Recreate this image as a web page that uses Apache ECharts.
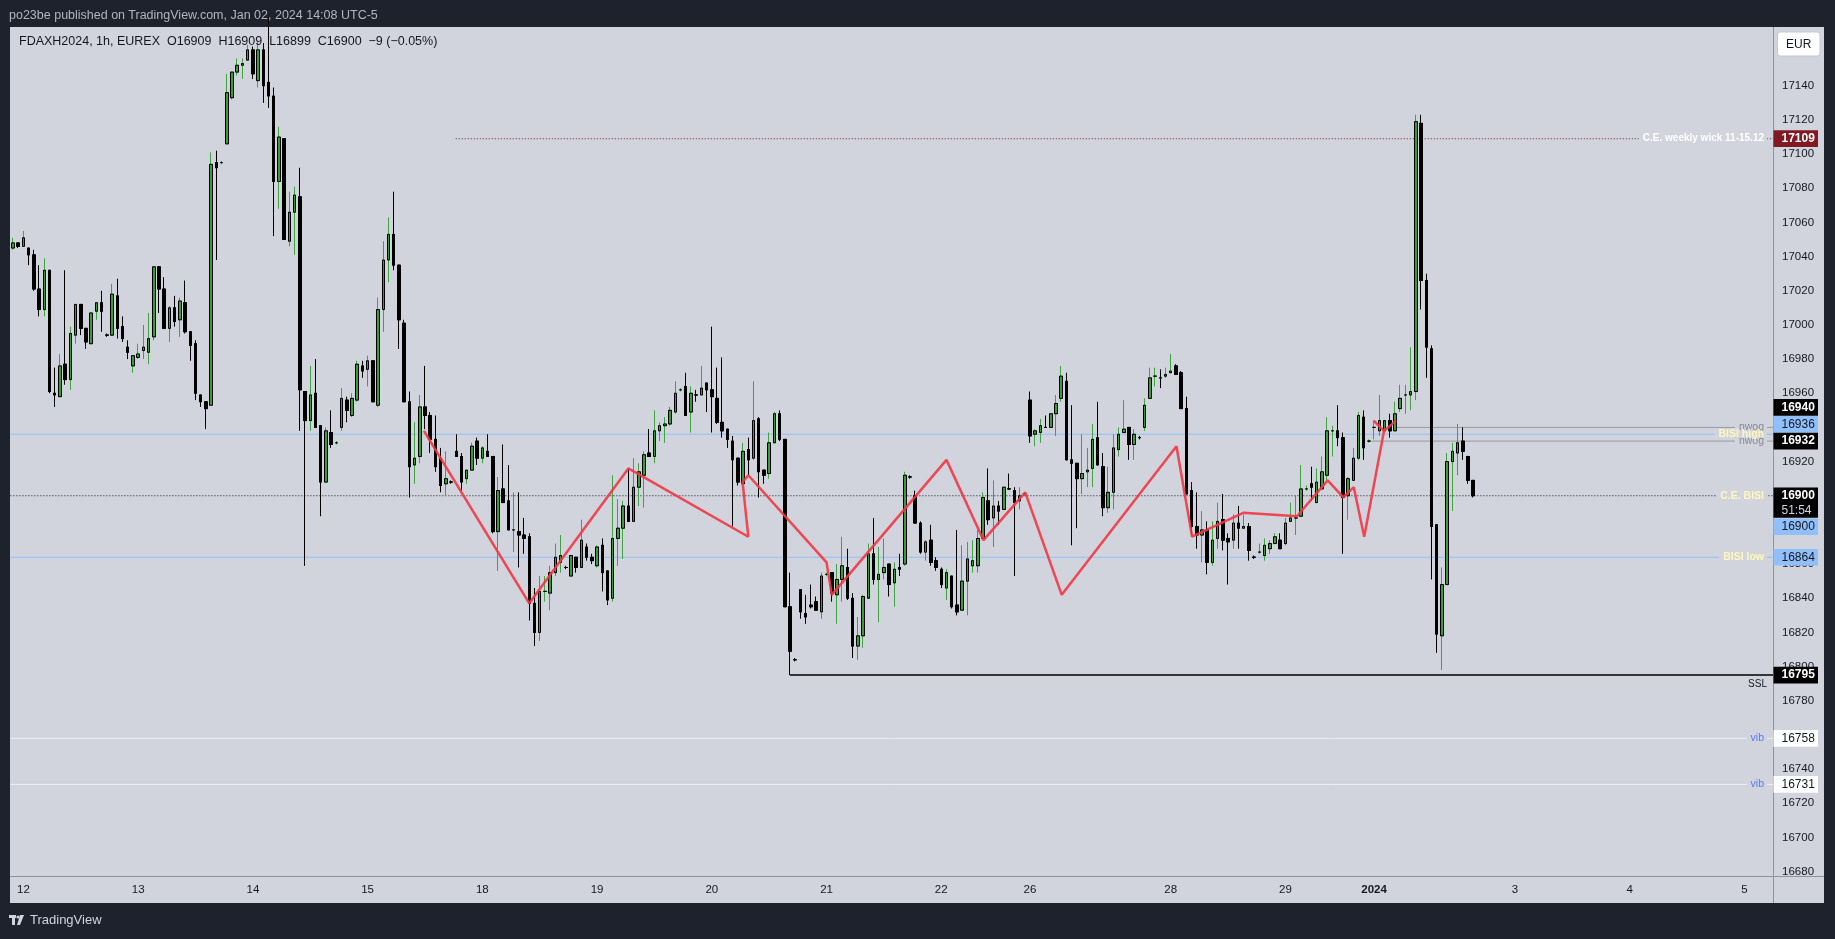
<!DOCTYPE html>
<html><head><meta charset="utf-8">
<script src="https://cdn.jsdelivr.net/npm/echarts@6/dist/echarts.min.js"></script>
<style>
html,body{margin:0;padding:0;background:#1e222d;width:1835px;height:939px;overflow:hidden;font-family:'Liberation Sans','Noto Sans',sans-serif;}
#panel{position:absolute;left:10px;top:27px;width:1814px;height:876px;background:#d1d4dc;}
.sep{position:absolute;background:#8f929b;}
#chart{position:absolute;left:0;top:0;width:1835px;height:939px;}
#title{position:absolute;left:9px;top:8px;color:#b2b5be;font-size:12.5px;white-space:pre;}
#legend{position:absolute;left:19px;top:34px;color:#131722;font-size:12.5px;white-space:pre;}
#footer{position:absolute;left:9px;top:912px;color:#d1d4dc;font-size:13px;display:flex;align-items:center;gap:5px;}
</style></head>
<body>
<div id="panel"></div>
<div class="sep" style="left:1773px;top:27px;width:1px;height:876px;"></div>
<div class="sep" style="left:10px;top:876px;width:1814px;height:1px;"></div>
<div id="chart"></div>
<div id="title">po23be published on TradingView.com, Jan 02, 2024 14:08 UTC-5</div>
<div id="legend">FDAXH2024, 1h, EUREX  O16909  H16909  L16899  C16900  −9 (−0.05%)</div>
<div id="footer"><svg width="16" height="12" viewBox="0 0 16 12"><rect x="0" y="1" width="7" height="3" fill="#d1d4dc"/><rect x="3" y="1" width="3" height="10" fill="#d1d4dc"/><circle cx="9" cy="3" r="1.6" fill="#d1d4dc"/><polygon points="11,1 15,1 11,11 8,11" fill="#d1d4dc"/></svg><span>TradingView</span></div>
<script>
// ---------------- data ----------------
// hourly candles, each row: [open, high, low, close]
const candles = [
[17045,17051,17044,17048],[17048,17048,17045,17046],[17046,17055,17046,17051],[17045,17045,17035,17041],[17041,17044,17020,17021],
[17021,17035,17005,17009],[17009,17039,17005,17032],[17032,17032,16960,16961],[16960,16975,16952,16959],[16958,16983,16958,16976],
[16977,17032,16965,16968],[16968,16999,16962,16995],[16994,17012,16989,17012],[17012,17012,16994,16998],[16998,16998,16986,16990],
[16989,17007,16989,17007],[17008,17013,17003,17013],[17013,17020,16996,17008],[16994,16995,16993,16994],[16994,17024,16994,17018],
[17017,17027,16992,16998],[16999,17005,16990,16992],[16987,16991,16980,16984],[16976,16982,16972,16982],[16981,16989,16980,16983],
[16985,17000,16980,16987],[16984,17007,16977,16992],[16993,17034,16991,17034],[17034,17034,17007,17021],[17021,17028,16998,16998],
[16998,17011,16990,17010],[17010,17017,16999,17002],[17003,17016,16993,17014],[17013,17026,16995,16996],[16996,16996,16979,16988],
[16989,16991,16956,16960],[16959,16959,16952,16955],[16955,16955,16939,16951],[16953,17101,16953,17094],[17095,17102,17038,17092],
[17095,17096,17094,17095],[17106,17147,17106,17136],[17133,17148,17132,17148],[17148,17156,17146,17152],[17152,17156,17144,17153],
[17155,17164,17155,17161],[17161,17163,17144,17147],[17143,17166,17139,17161],[17161,17165,17130,17140],[17142,17180,17127,17134],
[17134,17139,17052,17084],[17084,17116,17068,17110],[17109,17109,17050,17050],[17049,17078,17046,17066],[17066,17081,17041,17076],
[17075,17092,16938,16962],[16961,16961,16859,16944],[16944,16976,16938,16959],[16960,16980,16940,16940],[16941,16941,16888,16908],
[16908,16940,16908,16938],[16937,16950,16928,16930],[16931,16932,16930,16931],[16940,16963,16938,16957],[16956,16958,16943,16950],
[16947,16960,16946,16957],[16956,16979,16955,16977],[16976,16979,16969,16973],[16974,16982,16964,16979],[16979,16979,16955,16955],
[16953,17016,16952,17009],[17009,17049,16996,17038],[17038,17063,17025,17053],[17053,17078,17032,17035],[17035,17035,16986,17003],
[17001,17003,16955,16955],[16955,16961,16899,16917],[16918,16943,16907,16922],[16923,16959,16919,16952],[16952,16976,16939,16947],
[16947,16949,16925,16933],[16933,16947,16914,16917],[16922,16928,16902,16906],[16907,16926,16900,16910],[16908,16909,16907,16908],
[16926,16936,16923,16923],[16923,16925,16903,16908],[16910,16915,16907,16915],[16915,16931,16915,16929],[16932,16934,16918,16922],
[16922,16929,16919,16928],[16926,16936,16923,16923],[16923,16923,16878,16879],[16879,16911,16856,16903],[16904,16930,16896,16896],
[16897,16918,16880,16880],[16880,16902,16867,16880],[16879,16902,16858,16877],[16877,16887,16866,16875],[16876,16878,16827,16837],
[16837,16846,16812,16820],[16820,16853,16815,16844],[16844,16853,16838,16844],[16843,16859,16833,16855],[16855,16872,16853,16864],
[16861,16877,16855,16865],[16858,16859,16857,16858],[16853,16865,16853,16865],[16864,16864,16855,16858],[16858,16886,16858,16874],
[16870,16872,16862,16864],[16864,16866,16860,16862],[16859,16871,16858,16870],[16871,16875,16844,16855],[16856,16856,16836,16839],
[16840,16912,16838,16875],[16875,16898,16859,16881],[16881,16897,16863,16894],[16894,16916,16885,16885],[16885,16922,16885,16905],
[16905,16919,16894,16914],[16912,16926,16893,16924],[16925,16939,16923,16923],[16923,16950,16919,16938],[16938,16943,16932,16941],
[16941,16946,16931,16942],[16942,16952,16941,16950],[16949,16967,16948,16960],[16962,16963,16961,16962],[16964,16972,16947,16947],
[16949,16964,16937,16960],[16959,16962,16955,16959],[16959,16976,16959,16963],[16966,16966,16949,16962],[16962,16999,16937,16958],
[16957,16975,16942,16943],[16943,16981,16934,16938],[16939,16939,16928,16933],[16932,16935,16882,16921],[16922,16922,16906,16908],
[16907,16931,16907,16926],[16927,16934,16912,16921],[16922,16967,16921,16944],[16945,16946,16899,16914],[16915,16915,16907,16912],
[16913,16937,16910,16931],[16931,16949,16931,16948],[16948,16950,16932,16933],[16933,16933,16835,16835],[16835,16855,16795,16809],
[16804,16805,16803,16804],[16845,16845,16828,16832],[16831,16842,16825,16829],[16836,16848,16834,16835],[16838,16841,16833,16833],
[16832,16855,16828,16853],[16854,16855,16853,16854],[16855,16855,16838,16843],[16842,16860,16825,16851],[16851,16876,16838,16859],
[16858,16869,16839,16840],[16840,16843,16805,16812],[16812,16829,16804,16818],[16818,16842,16811,16841],[16840,16872,16840,16866],
[16866,16887,16848,16851],[16851,16870,16826,16854],[16855,16875,16851,16858],[16860,16860,16841,16848],[16849,16861,16835,16857],
[16858,16866,16853,16857],[16860,16914,16859,16912],[16911,16912,16910,16911],[16900,16903,16884,16884],[16884,16885,16866,16867],
[16867,16874,16862,16873],[16874,16883,16859,16861],[16862,16864,16856,16858],[16857,16858,16846,16848],[16846,16857,16839,16855],
[16853,16853,16834,16835],[16836,16880,16830,16832],[16833,16871,16833,16850],[16850,16873,16830,16863],[16859,16874,16855,16862],
[16859,16880,16855,16875],[16875,16902,16874,16899],[16897,16916,16883,16886],[16887,16909,16870,16894],[16894,16897,16883,16891],
[16892,16905,16892,16905],[16904,16913,16904,16904],[16903,16905,16853,16896],[16897,16905,16892,16900],[16901,16902,16900,16901],
[16956,16961,16931,16935],[16936,16939,16929,16938],[16937,16945,16931,16941],[16940,16947,16940,16940],[16940,16948,16940,16948],
[16948,16959,16935,16954],[16957,16976,16955,16970],[16967,16972,16921,16921],[16921,16953,16871,16919],[16919,16919,16881,16910],
[16910,16936,16901,16913],[16914,16928,16905,16915],[16916,16942,16905,16933],[16934,16955,16918,16918],[16917,16925,16888,16893],
[16893,16917,16890,16902],[16902,16936,16892,16928],[16927,16940,16923,16936],[16937,16956,16937,16939],[16940,16940,16921,16930],
[16930,16939,16921,16936],[16934,16935,16933,16934],[16940,16957,16938,16953],[16957,16975,16957,16969],[16970,16975,16964,16970],
[16969,16974,16963,16969],[16970,16975,16969,16971],[16972,16983,16972,16973],[16976,16977,16971,16971],[16972,16973,16951,16951],
[16951,16958,16901,16901],[16903,16908,16877,16882],[16882,16902,16869,16877],[16877,16891,16861,16880],[16880,16885,16854,16861],
[16861,16885,16859,16874],[16875,16896,16869,16885],[16886,16901,16868,16874],[16875,16878,16848,16873],[16874,16889,16869,16884],
[16884,16894,16869,16881],[16881,16889,16881,16882],[16882,16884,16862,16868],[16864,16865,16863,16864],[16867,16872,16866,16867],
[16865,16875,16862,16871],[16869,16874,16866,16872],[16872,16878,16872,16876],[16874,16878,16869,16869],[16872,16887,16871,16884],
[16885,16896,16885,16887],[16887,16900,16877,16887],[16888,16918,16888,16904],[16904,16906,16903,16904],[16907,16917,16897,16905],
[16896,16916,16896,16908],[16904,16923,16904,16914],[16912,16946,16909,16938],[16938,16941,16923,16938],[16938,16953,16929,16934],
[16934,16937,16866,16899],[16900,16911,16886,16910],[16909,16928,16909,16922],[16922,16949,16921,16947],[16946,16950,16921,16928],
[16932,16933,16931,16932],[16940,16944,16933,16940],[16938,16959,16935,16944],[16938,16944,16938,16944],[16944,16948,16934,16938],
[16938,16955,16938,16948],[16951,16965,16949,16957],[16959,16965,16948,16959],[16959,16987,16950,16961],[16961,17123,16956,17119],
[17118,17123,17009,17026],[17026,17030,16969,16987],[16986,16988,16851,16882],[16883,16883,16808,16819],[16818,16858,16798,16848],
[16848,16925,16848,16920],[16920,16931,16891,16926],[16925,16942,16912,16931],[16932,16940,16921,16926],[16923,16923,16907,16909],
[16909,16909,16899,16900]
];
const slotCount = 338;                 // bar slots shown on the time axis (incl. future space)
const dayLabels = ['12','13','14','15','18','19','20','21','22','26','28','29','2024','3','4','5'];
const dayLabelBar = [2,24,46,68,90,112,134,156,178,195,222,244,261,288,310,332];
const priceTicks = [16680,16700,16720,16740,16760,16780,16800,16820,16840,16860,16880,16900,16920,16940,16960,16980,17000,17020,17040,17060,17080,17100,17120,17140];
const priceMin = 16677.4, priceMax = 17174.4;
// horizontal levels
const levelNames  = ['C.E. weekly wick 11-15.12','nwog','BISI high','nwog','C.E. BISI','BISI low','SSL','vib','vib'];
const levelValues = [17109, 16940, 16936, 16932, 16900, 16864, 16795, 16758, 16731];
const levelStartBar = [84.9, 265.2, -0.5, 260.5, -0.5, -0.5, 149, -0.5, -0.5];
// red swing path (bar position, price)
const swingBar = [78.8, 99.0, 118.0, 141.0, 139.9, 141.0, 156.0, 157.0, 179.0, 186.1, 194.1, 201.1, 223.1, 226.1, 235.9, 246.2, 252.1, 255.1, 257.1, 259.1, 262.9];
const swingVal = [16938, 16837, 16916, 16876, 16908, 16912, 16861, 16842, 16921, 16874, 16902, 16842, 16929, 16876, 16890, 16888, 16909, 16899, 16905, 16876, 16938];
const swing2Bar = [260.9, 262.9, 265.2];
const swing2Val = [16944, 16938, 16944];
const lastPrice = 16900, countdown = '51:54';

// ---------------- chart ----------------
const FONT = "'Liberation Sans','Noto Sans',sans-serif";
const cats = new Array(slotCount).fill('');
dayLabelBar.forEach((b, k) => { cats[b] = dayLabels[k]; });
const chart = echarts.init(document.getElementById('chart'), null, {renderer: 'canvas'});
const barW = 5.215;
const gridLeft = 13 - barW / 2;

const levelStyle = {
  'C.E. weekly wick 11-15.12': {color: '#7a1c22', type: [1, 2], width: 1},
  'nwog': {color: '#959aa3', type: 'solid', width: 1},
  'BISI high': {color: '#90bff9', type: 'solid', width: 1},
  'C.E. BISI': {color: '#131722', type: [1, 2], width: 1},
  'BISI low': {color: '#90bff9', type: 'solid', width: 1},
  'SSL': {color: '#000000', type: 'solid', width: 1.5},
  'vib': {color: '#eef0f5', type: 'solid', width: 1}
};

const series = [];
levelNames.forEach((n, k) => {
  series.push({
    type: 'line', xAxisIndex: 1, yAxisIndex: 0, symbol: 'none', silent: true, z: 1,
    data: [[levelStartBar[k], levelValues[k]], [slotCount - 0.5, levelValues[k]]],
    lineStyle: levelStyle[n]
  });
});
series.push({
  type: 'candlestick', xAxisIndex: 0, yAxisIndex: 0, z: 3, barWidth: 3,
  data: candles.map(r => [r[0], r[3], r[2], r[1]]),
  itemStyle: {color: '#3c9a3c', color0: '#000000', borderColor: '#3fa33f', borderColor0: '#000000', borderWidth: 1}
});
series.push({
  type: 'candlestick', xAxisIndex: 0, yAxisIndex: 0, z: 4, barWidth: 3,
  data: candles.map(r => [r[0], r[3], Math.min(r[0], r[3]), Math.max(r[0], r[3])]),
  itemStyle: {color: '#3c9a3c', color0: '#000000', borderColor: '#000000', borderColor0: '#000000', borderWidth: 1}
});
series.push({
  type: 'line', xAxisIndex: 1, yAxisIndex: 0, symbol: 'none', z: 6, silent: true,
  data: swingBar.map((b, k) => [b, swingVal[k]]),
  lineStyle: {color: '#f23645', width: 2.5, opacity: 0.9}
});
series.push({
  type: 'line', xAxisIndex: 1, yAxisIndex: 0, symbol: 'none', z: 6, silent: true,
  data: swing2Bar.map((b, k) => [b, swing2Val[k]]),
  lineStyle: {color: '#f23645', width: 2.5, opacity: 0.9}
});

chart.setOption({
  animation: false,
  backgroundColor: 'transparent',
  grid: {left: gridLeft, top: 27, width: slotCount * barW, height: 849, containLabel: false},
  xAxis: [{
    type: 'category', data: cats, boundaryGap: true,
    axisLine: {show: false}, axisTick: {show: false}, splitLine: {show: false},
    axisLabel: {
      interval: (i, v) => v !== '', color: '#131722', fontSize: 11.5, fontFamily: FONT, margin: 8,
      formatter: v => v === '2024' ? '{b|2024}' : v,
      rich: {b: {fontWeight: 'bold', fontSize: 11.5, fontFamily: FONT, color: '#131722'}}
    }
  }, {
    type: 'value', min: -0.5, max: slotCount - 0.5, show: false
  }],
  yAxis: [{
    type: 'value', position: 'right', min: priceMin, max: priceMax,
    axisLine: {show: false}, axisTick: {show: false}, splitLine: {show: false},
    axisLabel: {customValues: priceTicks, color: '#131722', fontSize: 11.5, fontFamily: FONT, margin: 9,
      formatter: v => String(Math.round(v))}
  }],
  series: series
});

// ---------------- annotations & price boxes ----------------
const py = v => chart.convertToPixel({yAxisIndex: 0}, v);
const annStyle = {
  'C.E. weekly wick 11-15.12': {fill: '#ffffff', font: 'bold 10px ' + FONT, dy: 0, bg: true},
  'nwog': {fill: '#868993', font: '10.5px ' + FONT, dy: 0, bg: true},
  'BISI high': {fill: '#fff6bf', font: 'bold 10.5px ' + FONT, dy: 0, bg: true},
  'C.E. BISI': {fill: '#fff6bf', font: 'bold 10.5px ' + FONT, dy: 0, bg: true},
  'BISI low': {fill: '#fff6bf', font: 'bold 10.5px ' + FONT, dy: 0, bg: true},
  'SSL': {fill: '#131722', font: '10px ' + FONT, dy: 9, bg: false},
  'vib': {fill: '#5b79f5', font: '10.5px ' + FONT, dy: 0, bg: true}
};
const g = [];
levelNames.forEach((n, k) => {
  const s = annStyle[n];
  const st = {text: n, x: 1767, y: py(levelValues[k]) + s.dy, fill: s.fill, font: s.font, lineHeight: 6,
    textAlign: 'right', textVerticalAlign: 'middle', align: 'right', verticalAlign: 'middle'};
  if (s.bg) { st.backgroundColor = '#d1d4dc'; st.padding = [0, 3, 0, 4]; }
  g.push({type: 'text', z: n === 'BISI high' ? 51 : 50, silent: true, style: st});
});
// price boxes on the axis
const boxStyle = {
  'C.E. weekly wick 11-15.12': {bg: '#801922', fg: '#ffffff', bold: true, dy: 0},
  'nwog0': {bg: '#000000', fg: '#ffffff', bold: true, dy: -20},
  'BISI high': {bg: '#90bff9', fg: '#131722', bold: false, dy: -10},
  'nwog1': {bg: '#000000', fg: '#ffffff', bold: true, dy: 0},
  'C.E. BISI': {bg: '#90bff9', fg: '#131722', bold: false, dy: 31},
  'BISI low': {bg: '#90bff9', fg: '#131722', bold: false, dy: 0},
  'SSL': {bg: '#000000', fg: '#ffffff', bold: true, dy: 0},
  'vib': {bg: '#ffffff', fg: '#131722', bold: false, dy: 0}
};
let nw = 0;
function addBox(yc, h, text, s) {
  g.push({type: 'rect', z: 60, silent: true, shape: {x: 1773.5, y: yc - h / 2, width: 44.5, height: h},
    style: {fill: s.bg}});
  g.push({type: 'text', z: 61, silent: true, style: {text: text, x: 1781.5, y: yc,
    fill: s.fg, font: (s.bold ? 'bold ' : '') + '12px ' + FONT,
    textAlign: 'left', textVerticalAlign: 'middle', align: 'left', verticalAlign: 'middle'}});
}
levelNames.forEach((n, k) => {
  let key = n;
  if (n === 'nwog') { key = 'nwog' + nw; nw++; }
  const s = boxStyle[key];
  addBox(py(levelValues[k]) + s.dy, 16.7, String(levelValues[k]), s);
});
// last price + countdown box
const yl = py(lastPrice);
g.push({type: 'rect', z: 62, silent: true, shape: {x: 1773.5, y: yl - 8.2, width: 44.5, height: 30.2}, style: {fill: '#000000'}});
g.push({type: 'text', z: 63, silent: true, style: {text: String(lastPrice), x: 1781.5, y: yl, fill: '#ffffff',
  font: 'bold 12px ' + FONT, textAlign: 'left', textVerticalAlign: 'middle', align: 'left', verticalAlign: 'middle'}});
g.push({type: 'text', z: 63, silent: true, style: {text: countdown, x: 1781.5, y: yl + 14.5, fill: '#d1d4dc',
  font: '12px ' + FONT, textAlign: 'left', textVerticalAlign: 'middle', align: 'left', verticalAlign: 'middle'}});
// currency box
g.push({type: 'rect', z: 62, silent: true, shape: {x: 1777.5, y: 32, width: 42.5, height: 24, r: 3},
  style: {fill: '#ffffff', stroke: '#c5c8d0', lineWidth: 1}});
g.push({type: 'text', z: 63, silent: true, style: {text: 'EUR', x: 1798.7, y: 44.5, fill: '#131722',
  font: '12px ' + FONT, textAlign: 'center', textVerticalAlign: 'middle', align: 'center', verticalAlign: 'middle'}});
chart.setOption({graphic: {elements: g}});
</script>
</body></html>
